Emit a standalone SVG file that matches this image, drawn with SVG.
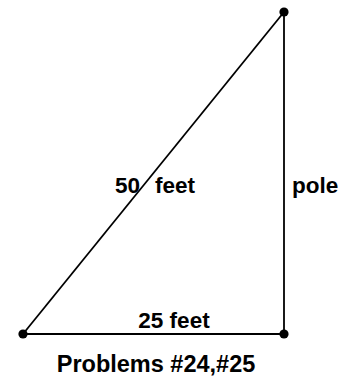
<svg xmlns="http://www.w3.org/2000/svg" width="347" height="377" viewBox="0 0 347 377">
<style>
.ln{stroke:#000;stroke-width:1.8;fill:none}
.pt{fill:#000}
text{font-family:"Liberation Sans",Arial,sans-serif;font-weight:bold;fill:#000}
</style>
<rect width="347" height="377" fill="#fff"/>
<g id="connectors">
<line class="ln" x1="23" y1="334" x2="284" y2="12"/>
<line class="ln" x1="284" y1="12" x2="284" y2="334"/>
<line class="ln" x1="23" y1="334" x2="284" y2="334"/>
</g>
<g id="top"><circle class="pt" cx="284" cy="12" r="4.6"/></g>
<g id="bottom-left"><circle class="pt" cx="23" cy="334" r="4.6"/></g>
<g id="bottom-right"><circle class="pt" cx="284" cy="334" r="4.6"/></g>
<g id="labels">
<text font-size="22.5"><tspan x="115" y="193">50</tspan> <tspan x="155" y="193">feet</tspan></text>
<text x="292" y="193" font-size="22.5">pole</text>
<text x="174" y="327.5" font-size="22.5" text-anchor="middle">25 feet</text>
<text x="156" y="371.5" font-size="23.5" text-anchor="middle">Problems #24,#25</text>
</g>
</svg>
